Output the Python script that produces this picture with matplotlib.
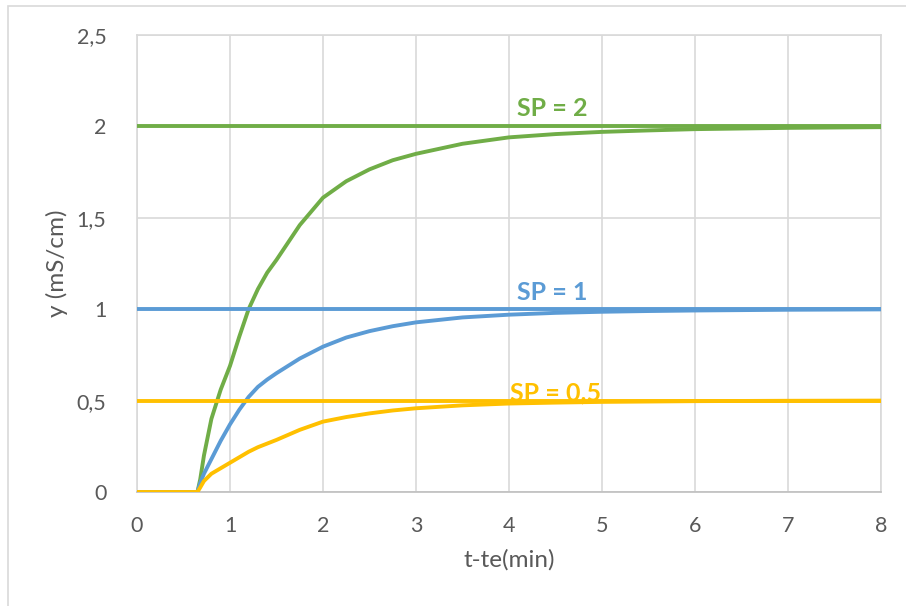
import matplotlib
matplotlib.use("Agg")
import matplotlib.pyplot as plt
from matplotlib.patches import Rectangle

# Time axis (minutes after the step) and closed-loop responses
t = [0, 0.3, 0.6, 0.65, 0.68, 0.72, 0.8, 0.9, 1.0, 1.1, 1.2, 1.3, 1.4, 1.5,
     1.75, 2.0, 2.25, 2.5, 2.75, 3.0, 3.5, 4.0, 4.5, 5.0, 5.5, 6.0, 7.0, 8.0]

y_sp2 = [0, 0, 0, 0.0, 0.07, 0.2, 0.4, 0.56, 0.69, 0.85, 1.0, 1.11, 1.2, 1.27,
         1.46, 1.61, 1.7, 1.765, 1.815, 1.85, 1.905, 1.94, 1.958, 1.97, 1.978, 1.985, 1.992, 1.996]
y_sp1 = [0, 0, 0, 0.0, 0.05, 0.1, 0.18, 0.28, 0.37, 0.45, 0.52, 0.575, 0.615, 0.65,
         0.73, 0.795, 0.845, 0.88, 0.907, 0.928, 0.955, 0.97, 0.98, 0.986, 0.99, 0.993, 0.997, 0.999]
y_sp05 = [0, 0, 0, 0.0, 0.025, 0.06, 0.1, 0.13, 0.16, 0.19, 0.22, 0.245, 0.265, 0.285,
          0.34, 0.385, 0.41, 0.43, 0.446, 0.458, 0.474, 0.484, 0.489, 0.493, 0.495, 0.497, 0.499, 0.5]

setpoints = [2, 1, 0.5]
sp_labels = ["SP = 2", "SP = 1", "SP = 0,5"]
colors = ["#70AD47", "#5B9BD5", "#FFC000"]

x_ticks = [0, 1, 2, 3, 4, 5, 6, 7, 8]
y_ticks = [0, 0.5, 1, 1.5, 2, 2.5]
y_tick_labels = ["0", "0,5", "1", "1,5", "2", "2,5"]

plt.rcParams["font.family"] = ["Lato", "DejaVu Sans"]

W, H = 906, 606
fig = plt.figure(figsize=(W / 100, H / 100), dpi=100)
fig.patch.set_facecolor("white")

# outer chart frame
fig.add_artist(Rectangle((8 / W, -0.05), 1.2, (H - 6) / H + 0.05,
                         transform=fig.transFigure, fill=False,
                         edgecolor="#D9D9D9", linewidth=1.2))

left, right, top, bottom = 137, 881, 35, 492
ax = fig.add_axes([left / W, 1 - bottom / H, (right - left) / W, (bottom - top) / H])

ax.set_xlim(0, 8)
ax.set_ylim(0, 2.5)
ax.set_xticks(x_ticks)
ax.set_yticks(y_ticks)
ax.set_yticklabels(y_tick_labels)
ax.grid(True, color="#D9D9D9", linewidth=1.2)
ax.set_axisbelow(True)
ax.tick_params(length=0, labelsize=15.5, colors="#595959")
ax.tick_params(axis="y", pad=22)
ax.tick_params(axis="x", pad=17)

for name, sp in ax.spines.items():
    sp.set_color("#D9D9D9")
    sp.set_linewidth(1.2)
ax.spines["bottom"].set_color("#BFBFBF")

responses = [y_sp2, y_sp1, y_sp05]
for sp, resp, c in zip(setpoints, responses, colors):
    ax.plot([0, 8], [sp, sp], color=c, linewidth=2.8, solid_capstyle="butt", zorder=3)
    ax.plot(t, resp, color=c, linewidth=2.8, solid_joinstyle="round", zorder=3)

label_pos = [(4.47, 2.1), (4.46, 1.09), (4.5, 0.54)]
for (lx, ly), lab, c in zip(label_pos, sp_labels, colors):
    ax.text(lx, ly, lab, color=c, fontsize=18, fontweight="bold",
            ha="center", va="center", zorder=4)

ax.set_xlabel("t-te(min)", fontsize=17.5, color="#595959", labelpad=10)
ax.set_ylabel("y (mS/cm)", fontsize=17.5, color="#595959", labelpad=6)

fig.savefig("out.png", dpi=100, facecolor="white")
